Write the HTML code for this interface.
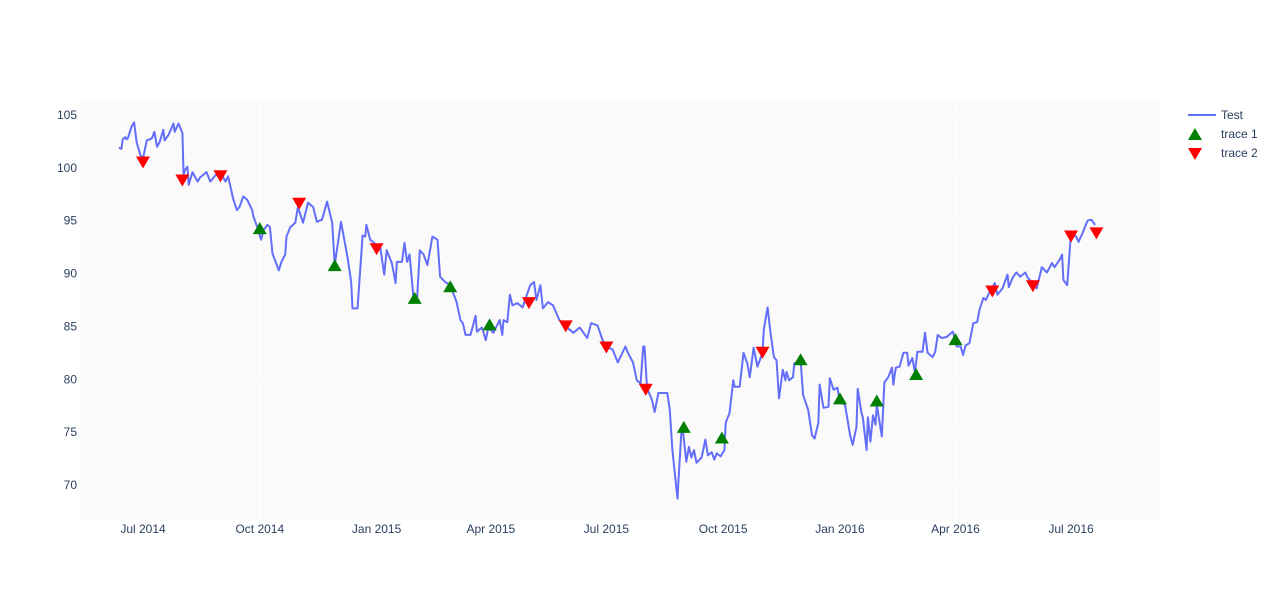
<!DOCTYPE html>
<html><head><meta charset="utf-8"><style>
body{margin:0;background:#fff;font-family:"Liberation Sans",sans-serif;}
svg text{font-family:"Liberation Sans",sans-serif;font-size:12px;fill:#2a3f5f;}
</style></head><body>
<svg id="chart" width="1282" height="600">
<rect x="80" y="100" width="1080" height="420" fill="#fafafa"/>
<g id="grid"></g><g id="lines"></g><g id="marks"></g><g id="axes"></g>
<g>
<g><line x1="1188" y1="115" x2="1216" y2="115" stroke="#636efa" stroke-width="2"/><text x="1221" y="119">Test</text></g>
<g><path d="M1195,128 L1202,140 L1188,140 Z" fill="green"/><text x="1221" y="138">trace 1</text></g>
<g><path d="M1188,148 L1202,148 L1195,160 Z" fill="red"/><text x="1221" y="157">trace 2</text></g>
</g>
</svg>
<script>
const lineDays=[-19,-17,-16,-14,-13,-12,-9,-7,-5,-2,0,3,7,9,11,13,16,17,20,24,25,28,31,32,33,35,36,39,43,45,50,53,57,61,65,67,71,74,76,79,82,86,87,90,93,95,98,100,102,107,109,112,113,116,120,122,126,130,134,137,141,145,149,151,156,161,164,165,169,173,175,176,179,184,187,190,192,196,199,200,204,206,208,210,213,216,218,221,224,228,232,234,238,242,247,250,252,254,258,262,263,267,270,272,276,281,283,284,287,289,291,295,299,305,308,310,313,315,319,323,328,334,339,344,350,353,358,362,365,370,374,380,382,386,389,392,394,395,397,401,403,406,407,413,415,417,421,422,424,425,428,430,432,434,436,440,443,445,448,450,452,455,458,459,462,465,466,470,473,476,478,481,484,488,489,492,494,497,499,501,504,506,507,509,512,513,518,520,524,527,529,532,533,536,540,541,544,547,549,553,557,559,562,563,566,567,570,571,573,575,577,578,582,584,587,590,591,593,596,599,602,603,606,608,610,614,616,618,622,624,626,629,633,638,641,644,646,648,651,654,657,659,662,664,667,671,673,677,681,682,685,688,691,695,697,701,704,708,712,716,718,722,724,725,728,731,735,737,740,744,747,750];
const lineVals=[101.9,101.8,102.7,102.9,102.7,102.8,103.9,104.3,102.4,101.2,100.9,102.6,102.8,103.4,102.0,102.4,103.6,102.6,103.1,104.2,103.4,104.2,103.3,99.3,99.8,100.1,98.4,99.6,98.7,99.1,99.6,98.7,99.3,99.6,98.7,99.2,97.1,96.0,96.3,97.3,97.0,96.0,95.4,94.4,93.2,94.1,94.6,94.4,91.9,90.3,91.1,91.8,93.5,94.4,94.8,96.3,94.8,96.7,96.3,94.9,95.1,96.8,94.8,90.8,94.9,91.6,89.2,86.7,86.7,93.6,93.5,94.6,93.2,92.7,92.4,89.9,92.2,91.0,89.1,91.1,91.1,92.9,91.1,91.8,87.8,87.8,92.2,91.8,90.8,93.5,93.2,89.7,89.2,88.9,87.3,85.6,85.3,84.2,84.2,86.0,84.5,84.9,83.7,84.9,84.4,85.6,84.2,85.6,85.4,88.0,87.0,87.2,86.8,88.9,89.2,87.5,88.9,86.7,87.3,87.0,85.6,84.9,84.4,84.9,83.9,85.3,85.1,83.7,83.1,82.8,81.6,83.1,82.5,81.6,79.9,79.6,83.1,83.1,79.2,78.0,76.9,78.7,78.7,78.7,77.1,73.3,68.7,70.8,74.9,75.5,72.2,73.6,72.6,73.3,72.1,72.6,74.3,72.8,73.1,72.4,73.0,72.7,73.3,75.9,76.8,79.9,79.3,79.3,82.5,81.5,80.2,83.0,81.2,82.5,84.7,86.8,84.7,82.1,81.8,78.2,80.9,79.9,80.7,79.9,80.2,81.5,81.8,78.5,77.1,74.7,74.4,75.9,79.5,77.3,77.4,80.1,79.0,79.2,77.8,77.6,74.7,73.8,75.5,79.1,76.8,76.4,73.3,76.4,74.1,76.6,75.7,77.6,74.6,79.7,80.2,81.1,79.5,81.1,81.2,82.5,82.5,81.3,82.0,80.7,82.6,82.6,84.4,82.5,82.1,82.6,84.2,83.9,84.0,84.5,83.1,83.1,82.3,83.2,83.4,85.3,85.4,86.6,87.7,87.5,88.3,89.1,88.0,88.6,89.9,88.7,89.6,90.1,89.7,90.1,89.6,89.1,88.6,90.6,90.1,91.0,90.6,91.3,91.8,89.4,88.9,93.8,93.5,93.0,93.8,95.0,95.1,94.6];
const upDays=[92,151,214,242,273,426,456,518,549,578,609,640];
const upVals=[94.2,90.7,87.6,88.7,85.1,75.4,74.4,81.8,78.1,77.9,80.4,83.7];
const downDays=[0,31,61,123,184,304,333,365,396,488,669,701,731,751];
const downVals=[100.6,98.9,99.3,96.7,92.4,87.3,85.1,83.1,79.1,82.6,88.4,88.9,93.6,93.9];
const yTicks=[70,75,80,85,90,95,100,105];
const xTickDays=[0,92,184,274,365,457,549,640,731];
const xTickLabels=["Jul 2014","Oct 2014","Jan 2015","Apr 2015","Jul 2015","Oct 2015","Jan 2016","Apr 2016","Jul 2016"];

const NS="http://www.w3.org/2000/svg";
const xS=d=>143+d*1.2695;
const yS=v=>115+(105-v)*10.571;
function mk(tag,attrs,parent){const e=document.createElementNS(NS,tag);for(const k in attrs)e.setAttribute(k,attrs[k]);document.getElementById(parent).appendChild(e);return e;}
yTicks.forEach(t=>{
  const g=mk('line',{x1:80,x2:1160,y1:yS(t),y2:yS(t),stroke:'#fff','stroke-width':1},'grid');
  
  
  const tx=mk('text',{x:77,y:yS(t)+4,'text-anchor':'end'},'axes');tx.textContent=t;
  
  
});
xTickDays.forEach((d,i)=>{
  const g=mk('line',{x1:xS(d),x2:xS(d),y1:100,y2:520,stroke:'#fff','stroke-width':1},'grid');
  
  
  const tx=mk('text',{x:xS(d),y:533,'text-anchor':'middle'},'axes');tx.textContent=xTickLabels[i];
  
  
});
const p=mk('polyline',{points:lineDays.map((d,i)=>xS(d).toFixed(1)+','+yS(lineVals[i]).toFixed(1)).join(' '),fill:'none',stroke:'#636efa','stroke-width':2,'stroke-linejoin':'round'},'lines');


upDays.forEach((d,i)=>{const x=xS(d),y=yS(upVals[i]);
  const m=mk('path',{d:`M${x},${y-7} L${x+7},${y+5} L${x-7},${y+5} Z`,fill:'green'},'marks');
  
  
});
downDays.forEach((d,i)=>{const x=xS(d),y=yS(downVals[i]);
  const m=mk('path',{d:`M${x-7},${y-5} L${x+7},${y-5} L${x},${y+7} Z`,fill:'red'},'marks');
  
  
});
</script>
</body></html>
